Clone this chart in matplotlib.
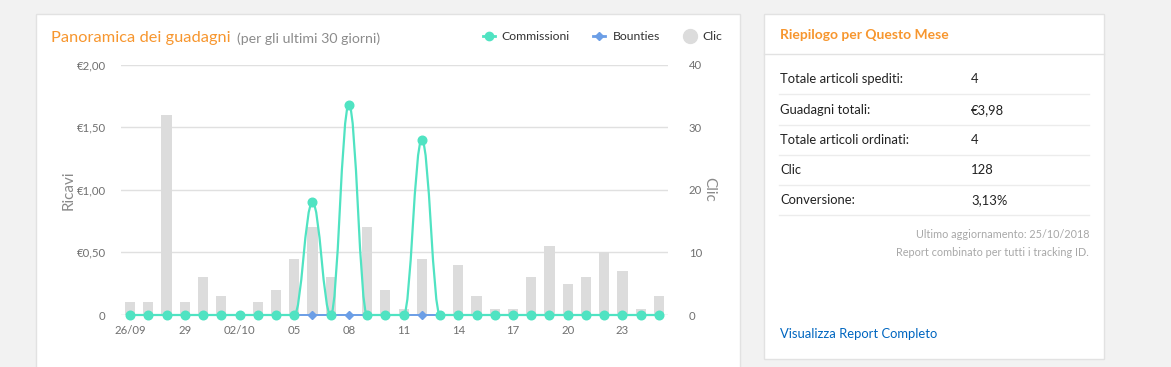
import matplotlib
matplotlib.use("Agg")
import matplotlib.pyplot as plt
from matplotlib.patches import Rectangle, PathPatch
from matplotlib.path import Path
from matplotlib.lines import Line2D
import numpy as np

plt.rcParams['font.family'] = ['Lato', 'DejaVu Sans']

# ---------------- data ----------------
dates = ["26/09", "27/09", "28/09", "29/09", "30/09", "01/10", "02/10", "03/10",
         "04/10", "05/10", "06/10", "07/10", "08/10", "09/10", "10/10", "11/10",
         "12/10", "13/10", "14/10", "15/10", "16/10", "17/10", "18/10", "19/10",
         "20/10", "21/10", "22/10", "23/10", "24/10", "25/10"]
tick_labels = ["26/09", "29", "02/10", "05", "08", "11", "14", "17", "20", "23"]
clicks = [2, 2, 32, 2, 6, 3, 0, 2, 4, 9, 14, 6, 0, 14, 4, 1,
          9, 0, 8, 3, 1, 1, 6, 11, 5, 6, 10, 7, 1, 3]
commissioni = [0, 0, 0, 0, 0, 0, 0, 0, 0, 0, 0.90, 0, 1.68, 0, 0, 0,
               1.40, 0, 0, 0, 0, 0, 0, 0, 0, 0, 0, 0, 0, 0]
bounties = [0] * 30
summary_labels = ["Totale articoli spediti:", "Guadagni totali:",
                  "Totale articoli ordinati:", "Clic", "Conversione:"]
summary_values = ["4", "€3,98", "4", "128", "3,13%"]

# ---------------- layout helpers ----------------
W, H = 1171, 367
fig = plt.figure(figsize=(W / 100, H / 100), dpi=100)
fig.patch.set_facecolor("#f2f2f2")

def fx(x):
    return x / W

def fy(y):
    return 1 - y / H

def card(x0, y0, x1, y1):
    fig.patches.append(Rectangle((fx(x0), fy(y1)), fx(x1) - fx(x0), fy(y0) - fy(y1),
                                 transform=fig.transFigure, facecolor="white",
                                 edgecolor="#e2e2e2", linewidth=1.0, zorder=-5))

card(36, 14, 740, 372)
card(764, 14, 1104, 359)

ORANGE = "#f7962e"
TEAL = "#50e3c2"
BLUE = "#6b9ee6"
GRAY_BAR = "#dcdcdc"
TICK = "#707070"

# ---------------- chart ----------------
ax2 = fig.add_axes([fx(121), fy(315), fx(668) - fx(121), fy(64.5) - fy(315)])
ax = ax2.twinx()
ax2.patch.set_visible(False)
ax.patch.set_visible(False)

x = np.arange(len(dates))
ax2.bar(x, clicks, width=0.56, color=GRAY_BAR, zorder=2)
ax2.set_ylim(0, 40)
ax.set_ylim(0, 2)
ax2.set_xlim(-0.5, 29.5)

for v in [0.5, 1.0, 1.5, 2.0]:
    ax2.axhline(v * 20, color="#e0e0e0", linewidth=1.0, zorder=1)
ax2.axhline(0, color="#d0d0d0", linewidth=1.0, zorder=1)

# left axis (euros) on the left, right axis (clicks) on the right
ax.yaxis.tick_left()
ax.yaxis.set_label_position("left")
ax2.yaxis.tick_right()
ax2.yaxis.set_label_position("right")
ax.set_yticks([0, 0.5, 1.0, 1.5, 2.0])
ax.set_yticklabels(["0", "€0,50", "€1,00", "€1,50", "€2,00"])
ax2.set_yticks([0, 10, 20, 30, 40])
ax2.set_yticklabels(["0", "10", "20", "30", "40"])

ax2.set_xticks(np.arange(0, len(dates), 3))
ax2.set_xticklabels(tick_labels)

for a in (ax, ax2):
    for s in a.spines.values():
        s.set_visible(False)
    a.tick_params(length=0, labelsize=8.2, labelcolor=TICK)
ax.tick_params(axis="y", pad=11)
ax2.tick_params(axis="y", pad=15)
ax2.tick_params(axis="x", pad=7.5)

ax.set_ylabel("Ricavi", color="#8a8a8a", fontsize=11, labelpad=1)
ax2.set_ylabel("Clic", color="#8a8a8a", fontsize=11, rotation=270, labelpad=10)


# Highcharts-like spline through points
def spline_path(xs, ys, smoothing=1.5):
    n = len(xs)
    denom = smoothing + 1
    lc = [None] * n
    rc = [None] * n
    for i in range(n):
        px, py = xs[i], ys[i]
        if 0 < i < n - 1:
            lx, ly = xs[i - 1], ys[i - 1]
            nx, ny = xs[i + 1], ys[i + 1]
            lcx = (smoothing * px + lx) / denom
            lcy = (smoothing * py + ly) / denom
            rcx = (smoothing * px + nx) / denom
            rcy = (smoothing * py + ny) / denom
            corr = 0.0
            if rcx != lcx:
                corr = ((rcy - lcy) * (rcx - px)) / (rcx - lcx) + py - rcy
            lcy += corr
            rcy += corr
            if lcy > ly and lcy > py:
                lcy = max(ly, py)
                rcy = 2 * py - lcy
            elif lcy < ly and lcy < py:
                lcy = min(ly, py)
                rcy = 2 * py - lcy
            if rcy > ny and rcy > py:
                rcy = max(ny, py)
                lcy = 2 * py - rcy
            elif rcy < ny and rcy < py:
                rcy = min(ny, py)
                lcy = 2 * py - rcy
            lc[i] = (lcx, lcy)
            rc[i] = (rcx, rcy)
        else:
            lc[i] = (px, py)
            rc[i] = (px, py)
    verts = [(xs[0], ys[0])]
    codes = [Path.MOVETO]
    for i in range(1, n):
        verts += [rc[i - 1], lc[i], (xs[i], ys[i])]
        codes += [Path.CURVE4] * 3
    return Path(verts, codes)

# bounties
ax.plot(x, bounties, color=BLUE, linewidth=1.4, marker="D", markersize=3.6,
        zorder=3, clip_on=False)
# commissioni
ax.add_patch(PathPatch(spline_path(list(x), commissioni), facecolor="none",
                       edgecolor=TEAL, linewidth=1.6, zorder=4, clip_on=False))
ax.plot(x, commissioni, linestyle="none", marker="o", markersize=6.2,
        color=TEAL, zorder=5, clip_on=False)

# ---------------- title & legend ----------------
fig.text(fx(51), fy(38), "Panoramica dei guadagni", color=ORANGE, fontsize=11.8,
         va="center", ha="left")
fig.text(fx(237), fy(38.5), "(per gli ultimi 30 giorni)", color="#8c8c8c",
         fontsize=10.2, va="center", ha="left")

ly = fy(36)
fig.add_artist(Line2D([fx(483), fx(495)], [ly, ly], color=TEAL, linewidth=2,
                      transform=fig.transFigure))
fig.add_artist(Line2D([fx(489)], [ly], color=TEAL, marker="o", markersize=6,
                      transform=fig.transFigure))
fig.text(fx(501), ly, "Commissioni", fontsize=8.8, color="#333333", va="center")
fig.add_artist(Line2D([fx(593), fx(605)], [ly, ly], color=BLUE, linewidth=2,
                      transform=fig.transFigure))
fig.add_artist(Line2D([fx(599)], [ly], color=BLUE, marker="D", markersize=4.2,
                      transform=fig.transFigure))
fig.text(fx(613), ly, "Bounties", fontsize=8.8, color="#333333", va="center")
fig.add_artist(Line2D([fx(690)], [ly], color="#dcdcdc", marker="o", markersize=10,
                      transform=fig.transFigure))
fig.text(fx(702), ly, "Clic", fontsize=8.8, color="#333333", va="center")

# ---------------- summary card ----------------
fig.text(fx(780), fy(35), "Riepilogo per Questo Mese", color=ORANGE, fontsize=10,
         fontweight="bold", va="center", ha="left")
fig.add_artist(Line2D([fx(764), fx(1104)], [fy(54), fy(54)], color="#e2e2e2",
                      linewidth=1, transform=fig.transFigure))
row_y = [79, 110, 140, 170, 200]
for yy, lab, val in zip(row_y, summary_labels, summary_values):
    fig.text(fx(780), fy(yy), lab, fontsize=9.4, color="#222222", va="center")
    fig.text(fx(971), fy(yy), val, fontsize=9.4, color="#222222", va="center")
    fig.add_artist(Line2D([fx(779), fx(1089)], [fy(yy + 15), fy(yy + 15)],
                          color="#ececec", linewidth=1, transform=fig.transFigure))

fig.text(fx(1089), fy(234), "Ultimo aggiornamento: 25/10/2018", fontsize=7.8,
         color="#a8a8a8", va="center", ha="right")
fig.text(fx(1089), fy(253), "Report combinato per tutti i tracking ID.",
         fontsize=7.8, color="#a8a8a8", va="center", ha="right")
fig.text(fx(780), fy(334), "Visualizza Report Completo", fontsize=9.4,
         color="#0066c0", va="center", ha="left")

fig.savefig("out.png", dpi=100, facecolor=fig.get_facecolor())
